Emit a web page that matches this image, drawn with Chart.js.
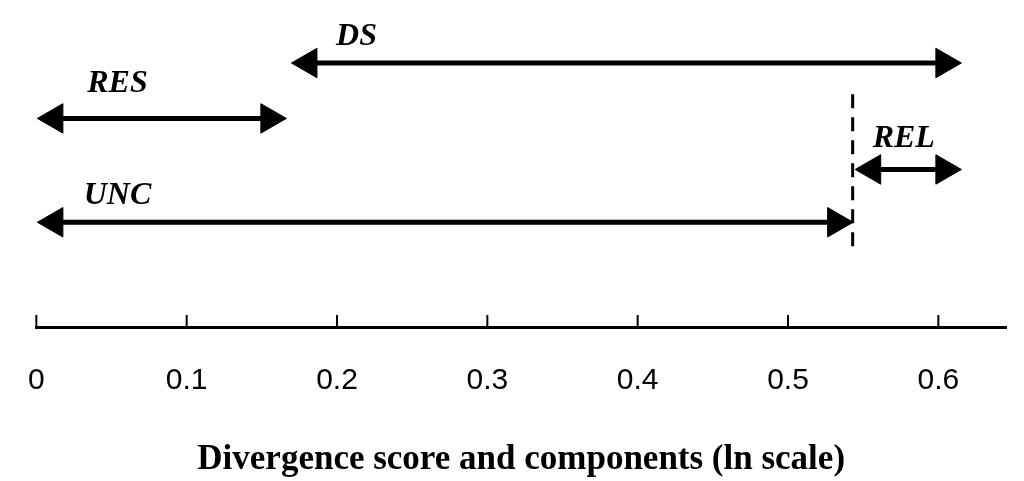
<!DOCTYPE html>
<html><head><meta charset="utf-8">
<script src="https://cdn.jsdelivr.net/npm/chart.js@4"></script>
<style>body{margin:0;background:#fff}#w{width:1024px;height:481px}</style>
</head><body><div id="w"><canvas id="c"></canvas></div>
<script>
const tickValues=[0,0.1,0.2,0.3,0.4,0.5,0.6];
const names=['DS','RES','REL','UNC'];
const starts=[0.181,0.012,0.556,0.012];
const ends=[0.604,0.155,0.604,0.532];
const rows=[52,116,175,236];
const labelX=[0.213,0.054,0.577,0.054];
const labelY=[22,76,140,205];
const dashX=0.543, dashY=[88,265];

const datasets=names.map((n,i)=>({
  label:n,data:[{x:starts[i],y:rows[i]},{x:ends[i],y:rows[i]}],
  borderColor:'#000',backgroundColor:'#000',borderWidth:5,
  pointStyle:'triangle',pointRadius:17,pointRotation:[-90,90],pointBorderWidth:1
}));
datasets.push({label:'split',data:[{x:dashX,y:dashY[0]},{x:dashX,y:dashY[1]}],
  borderColor:'#000',borderWidth:3,borderDash:[14,9],pointRadius:0});

const deco={id:'deco',afterDraw(ch){
  const c=ch.ctx,x=ch.scales.x,y=ch.scales.y;
  c.save();c.fillStyle='#000';c.strokeStyle='#000';c.lineWidth=2;
  const base=x.top;
  tickValues.forEach(v=>{const p=x.getPixelForValue(v);c.beginPath();c.moveTo(p,base);c.lineTo(p,base-12);c.stroke();});
  c.font='bold italic 32px "Liberation Serif"';c.textAlign='center';c.textBaseline='middle';
  names.forEach((n,i)=>c.fillText(n,x.getPixelForValue(labelX[i]),y.getPixelForValue(labelY[i])));
  c.restore();
}};

new Chart(document.getElementById('c'),{type:'line',data:{datasets},
 options:{responsive:true,maintainAspectRatio:false,animation:false,
  layout:{padding:{left:-24,right:0,top:0,bottom:0}},
  plugins:{legend:{display:false},tooltip:{enabled:false}},events:[],
  scales:{
   x:{type:'linear',min:0,max:0.645,
     afterBuildTicks:s=>{s.ticks=tickValues.map(v=>({value:v}));},
     grid:{display:false},border:{display:true,color:'#000',width:3},
     ticks:{color:'#000',padding:28,font:{family:'"Liberation Sans Narrow", "Liberation Sans"',size:30},callback:v=>String(v)},
     title:{display:true,text:'Divergence score and components (ln scale)',color:'#000',
       font:{family:'Liberation Serif',size:35,weight:'bold'},padding:{top:12,bottom:0}}},
   y:{display:false,min:0,max:357,reverse:true}
  }},plugins:[deco]});
</script></body></html>
